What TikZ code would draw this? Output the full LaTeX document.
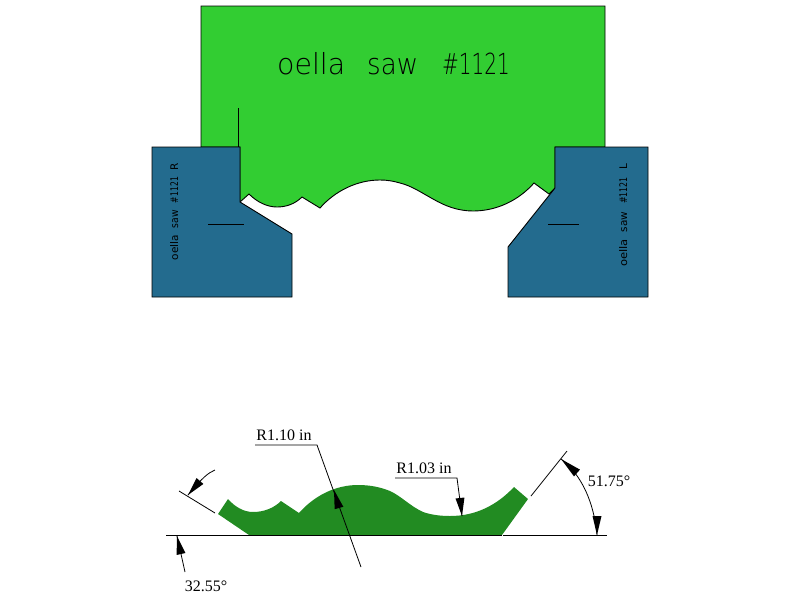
\documentclass[tikz,border=0pt]{standalone}
\usepackage{fontspec}
\usetikzlibrary{calc}
\setmainfont{Liberation Serif}
\newfontfamily\sawfont{DejaVu Sans ExtraLight}
\newfontfamily\sawsmall{DejaVu Sans}
\definecolor{sawgreen}{RGB}{50,205,50}
\definecolor{knifeblue}{RGB}{35,107,142}
\definecolor{cutgreen}{RGB}{34,139,34}
\tikzset{
  outlined/.style={draw=black,line width=0.9pt,line join=miter},
  dimline/.style={draw=black,line width=0.8pt},
  tiparrow/.style={fill=black,draw=none},
  dimtext/.style={font=\fontsize{16}{18}\selectfont,inner sep=0pt,anchor=center},
  sawtitle/.style={font=\sawfont\fontsize{29}{32}\selectfont,inner sep=0pt,anchor=center},
  sawlabel/.style={font=\sawsmall\fontsize{10.5}{12}\selectfont,inner sep=0pt,anchor=center,rotate=90}
}
\newcommand{\dimhead}[2]{% tip, base point
  \path[tiparrow] (#1) -- ($(#2)!4.5pt!90:(#1)$) -- ($(#2)!4.5pt!-90:(#1)$) -- cycle;
}
\begin{document}
\begin{tikzpicture}[x=1pt,y=-1pt]
\useasboundingbox (0,0) rectangle (800,600);
% saw body
\draw[outlined,fill=sawgreen]
  (201,6) -- (605,6) -- (605,147) -- (555,147) -- (555,188) -- (549,194) -- (534,183)
  .. controls (518,201) and (496,211) .. (473,211)
  .. controls (458,211) and (445,206) .. (433,199)
  .. controls (422,193) and (412,186) .. (400,183)
  .. controls (393,181) and (387,180) .. (380,180)
  .. controls (357,180) and (335,191) .. (320,208)
  -- (302,197)
  .. controls (295,204) and (286,207) .. (277,207)
  .. controls (267,207) and (257,202) .. (249,194)
  -- (240,202) -- (240,147) -- (201,147) -- cycle;
\draw[dimline] (238,108) -- (238,147);
% knives
\draw[outlined,fill=knifeblue]
  (152,147) -- (240,147) -- (240,202) -- (292,234) -- (292,297) -- (152,297) -- cycle;
\draw[outlined,fill=knifeblue]
  (555,147) -- (648,147) -- (648,297) -- (508,297) -- (508,247) -- (555,188) -- cycle;
\draw[dimline] (208,224) -- (244,224);
\draw[dimline] (548,224) -- (579,224);
\node[sawtitle] (title) at (393.5,64) {\scalebox{.98}[1]{oella}\hspace{22pt}\scalebox{.9}[1]{saw}\hspace{24pt}\scalebox{.69}[1]{\#1121}};
\node[sawlabel,anchor=base] (labr) at (178,211.5) {\scalebox{1}[1]{oella}\hspace{7pt}\scalebox{.88}[1]{saw}\hspace{7pt}\scalebox{.73}[1]{\#1121}\hspace{7pt}R};
\node[sawlabel,anchor=base] (labl) at (627,215) {\scalebox{1.1}[1]{oella}\hspace{7pt}\scalebox{1}[1]{saw}\hspace{8pt}\scalebox{.75}[1]{\#1121}\hspace{8pt}L};
% cut profile
\fill[cutgreen]
  (218,514) -- (228,499)
  .. controls (235,507) and (244,512) .. (253,512)
  .. controls (264,512) and (274,508) .. (281,501)
  -- (299,513)
  .. controls (314,496) and (335,485) .. (358,485)
  .. controls (370,485) and (380,487) .. (390,491)
  .. controls (401,496) and (410,506) .. (423,512)
  .. controls (432,515) and (441,516) .. (450,516)
  .. controls (476,516) and (497,505) .. (514,487)
  -- (528,499) -- (502,535) -- (249,535) -- cycle;
% baseline and extension lines
\draw[dimline] (166,535) -- (502,535);
\draw[dimline] (503,535) -- (607,535);
\draw[dimline] (179,491) -- (215,513);
\draw[dimline] (531,496) -- (567,451);
% radius leaders
\coordinate (r1a) at (255,445);
\coordinate (r1b) at (317,445);
\coordinate (r1c) at (361,567);
\coordinate (r1tip) at (334,490);
\coordinate (r1base) at (339,508);
\draw[dimline] (r1a) -- (r1b) -- (r1c);
\coordinate (r2a) at (395,478);
\coordinate (r2b) at (457,478);
\coordinate (r2tip) at (462,516);
\coordinate (r2base) at (460,498);
\draw[dimline] (r2a) -- (r2b) -- (r2tip);
% angle dimensions
\coordinate (a1a) at (215,470);
\coordinate (a1tip) at (188,495);
\coordinate (a1base) at (200,481);
\draw[dimline] (a1a) .. controls (208,473) and (203,477) .. (a1tip);
\coordinate (a2a) at (185,572);
\coordinate (a2tip) at (177,536);
\coordinate (a2base) at (181,554);
\draw[dimline] (a2a) -- (a2tip);
\coordinate (a3a) at (561,459);
\coordinate (a3b) at (597,535);
\coordinate (a3c) at (577,473);
\coordinate (a3d) at (597,516);
\draw[dimline] (a3a) .. controls (582,475) and (594,503) .. (a3b);
\dimhead{r1tip}{r1base}
\dimhead{r2tip}{r2base}
\dimhead{a1tip}{a1base}
\dimhead{a2tip}{a2base}
\dimhead{a3a}{a3c}
\dimhead{a3b}{a3d}
% dimension text
\node[dimtext] (t1) at (284,435) {R1.10 in};
\node[dimtext] (t2) at (424,468) {R1.03 in};
\node[dimtext] (t3) at (609,481) {51.75°};
\node[dimtext] (t4) at (206,586) {32.55°};
\end{tikzpicture}
\end{document}
